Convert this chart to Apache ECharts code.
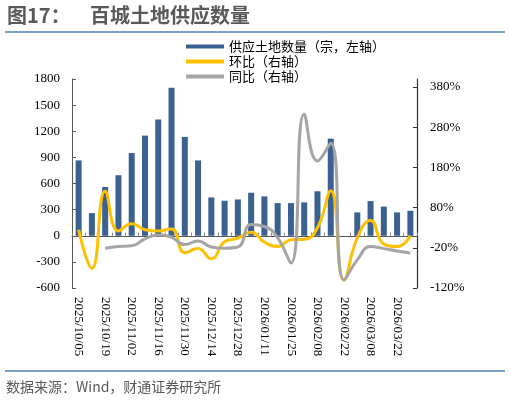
<!DOCTYPE html>
<html>
<head>
<meta charset="utf-8">
<script src="https://cdn.jsdelivr.net/npm/echarts@6/dist/echarts.min.js"></script>
<style>
  html, body { margin: 0; padding: 0; background: #fff; }
  #main { width: 510px; height: 402px; }
</style>
</head>
<body>
<div id="main"></div>
<script>
// 周度数据
var dates = ['2025/10/05','2025/10/12','2025/10/19','2025/10/26','2025/11/02','2025/11/09','2025/11/16','2025/11/23',
             '2025/11/30','2025/12/07','2025/12/14','2025/12/21','2025/12/28','2026/01/04','2026/01/11','2026/01/18',
             '2026/01/25','2026/02/01','2026/02/08','2026/02/15','2026/02/22','2026/03/01','2026/03/08','2026/03/15',
             '2026/03/22','2026/03/29'];
// 供应土地数量（宗）
var supply = [865, 260, 560, 695, 950, 1150, 1335, 1700, 1135, 865, 440, 402, 417, 494, 452, 375,
              375, 383, 511, 1115, 0, 268, 398, 335, 268, 287];
// 环比（%）
var hbRatio = [25, -71, 121, 22, 40, 25, 22, 27, -32, -22, -47, -5, 4, 19, -6, -17,
               0, 1, 30, 122, -100, 5, 48, -11, -17, 10];
// 同比（%）
var yoyRatio = [null, null, -21, -17, -15, 2, 12, 6, -12, -3, -18, -21, -18, 38, 33, 5,
                -58, 312, 196, 240, -100, -50, -17, -22, -28, -33];
// 右轴刻度
var rightTicks = [-120, -20, 80, 180, 280, 380];

var serif = '"Liberation Serif", "Times New Roman", serif';
var cjk = '"Noto Sans CJK SC", sans-serif';
var axisColor = '#595959';

var myChart = echarts.init(document.getElementById('main'));
var option = {
  backgroundColor: '#fff',
  animation: false,
  grid: { left: 72, right: 93, top: 79, bottom: 114, containLabel: false, outerBoundsMode: 'none' },
  legend: {
    orient: 'vertical',
    left: 181,
    top: 35,
    itemWidth: 38,
    itemHeight: 4,
    itemGap: 2,
    icon: 'rect',
    textStyle: { fontFamily: cjk, fontSize: 13, color: '#000' },
    data: [
      { name: '供应土地数量（宗，左轴）', icon: 'rect' },
      { name: '环比（右轴）', icon: 'rect' },
      { name: '同比（右轴）', icon: 'rect' }
    ]
  },
  xAxis: [
    {
      type: 'category',
      data: dates,
      position: 'bottom',
      axisLine: { show: false, onZero: false },
      axisTick: { show: false },
      axisLabel: { interval: 1, rotate: -90, margin: 9, fontFamily: serif, fontSize: 13, color: '#000' },
      splitLine: { show: false }
    },
    {
      // 零轴线
      type: 'category',
      data: dates,
      position: 'top',
      axisLine: { show: true, onZero: true, onZeroAxisIndex: 0, lineStyle: { color: axisColor, width: 1 } },
      axisTick: { show: true, interval: 0, inside: false, length: 3, lineStyle: { color: '#7f7f7f' } },
      axisLabel: { show: false },
      splitLine: { show: false }
    }
  ],
  yAxis: [
    {
      type: 'value',
      position: 'left',
      min: -600,
      max: 1800,
      interval: 300,
      axisLine: { show: true, lineStyle: { color: axisColor } },
      axisTick: { show: true, inside: true, length: 4, lineStyle: { color: axisColor } },
      axisLabel: {
        margin: 12, fontFamily: serif, fontSize: 13, color: '#000',
        formatter: function (v) { return String(v); }
      },
      splitLine: { show: false }
    },
    {
      type: 'value',
      position: 'right',
      min: -120,
      max: 400,
      interval: 20,
      axisLine: { show: true, lineStyle: { color: '#333', width: 1.2 } },
      axisTick: { show: true, inside: true, length: 4, customValues: rightTicks, lineStyle: { color: '#333' } },
      axisLabel: { margin: 13, customValues: rightTicks, formatter: '{value}%', fontFamily: serif, fontSize: 13, color: '#000' },
      splitLine: { show: false }
    }
  ],
  series: [
    {
      name: '供应土地数量（宗，左轴）',
      type: 'bar',
      xAxisIndex: 0,
      yAxisIndex: 0,
      barWidth: 6,
      itemStyle: { color: '#3A6190' },
      data: supply
    },
    {
      name: '环比（右轴）',
      type: 'line',
      xAxisIndex: 0,
      yAxisIndex: 1,
      smooth: 0.5,
      symbol: 'none',
      lineStyle: { width: 3, color: '#FFC000' },
      itemStyle: { color: '#FFC000' },
      data: hbRatio
    },
    {
      name: '同比（右轴）',
      type: 'line',
      xAxisIndex: 0,
      yAxisIndex: 1,
      smooth: 0.5,
      symbol: 'none',
      lineStyle: { width: 3, color: '#A5A5A5' },
      itemStyle: { color: '#A5A5A5' },
      data: yoyRatio
    }
  ],
  graphic: [
    { type: 'text', left: 7, top: 5, style: { text: '图17：', font: 'bold 20px "Noto Sans CJK SC", sans-serif', fill: '#595959' } },
    { type: 'text', left: 90, top: 5, style: { text: '百城土地供应数量', font: 'bold 20px "Noto Sans CJK SC", sans-serif', fill: '#595959' } },
    { type: 'line', shape: { x1: 5, y1: 32, x2: 505, y2: 32 }, style: { stroke: '#4F81BD', lineWidth: 1.5 } },
    { type: 'line', shape: { x1: 5, y1: 371, x2: 505, y2: 371 }, style: { stroke: '#4F81BD', lineWidth: 1.5 } },
    { type: 'text', left: 6, top: 380, style: { text: '数据来源：Wind，财通证券研究所', font: '14px "Noto Sans CJK SC", sans-serif', fill: '#595959' } }
  ]
};
myChart.setOption(option, true);
</script>
</body>
</html>
